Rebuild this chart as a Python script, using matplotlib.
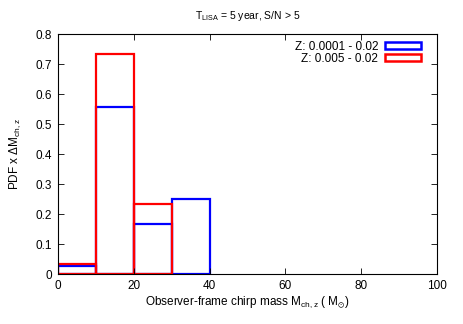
import matplotlib
matplotlib.use('Agg')
import matplotlib.pyplot as plt
from matplotlib.patches import Patch

# Histogram bins (chirp mass, left edges) and normalised counts
bin_left = [0, 10, 20, 30]
bin_width = 10
pdf_wide = [0.028, 0.556, 0.167, 0.25]     # Z: 0.0001 - 0.02
pdf_narrow = [0.033, 0.733, 0.233]          # Z: 0.005 - 0.02
labels = ['Z: 0.0001 - 0.02', 'Z: 0.005 - 0.02']

plt.rcParams['font.family'] = ['Liberation Sans', 'DejaVu Sans']
plt.rcParams['mathtext.default'] = 'regular'

fig = plt.figure(figsize=(4.63, 3.24), dpi=100)
ax = fig.add_axes([0.125, 0.154, 0.819, 0.741])

ax.bar(bin_left, pdf_wide, width=bin_width, align='edge', fill=False,
       edgecolor='#0000ff', linewidth=1.6)
ax.bar(bin_left[:len(pdf_narrow)], pdf_narrow, width=bin_width, align='edge',
       fill=False, edgecolor='#ff0000', linewidth=1.6)

ax.set_xlim(0, 100)
ax.set_ylim(0, 0.8)
ax.set_xticks(range(0, 101, 20))
ax.set_yticks([0, 0.1, 0.2, 0.3, 0.4, 0.5, 0.6, 0.7, 0.8])
ax.set_yticklabels(['0', '0.1', '0.2', '0.3', '0.4', '0.5', '0.6', '0.7', '0.8'])
ax.tick_params(direction='in', top=True, right=True, labelsize=8.5, length=4,
               width=0.6, pad=4)
for s in ax.spines.values():
    s.set_linewidth(0.8)

ax.set_title(r'T$_{LISA}$ = 5 year, S/N > 5', fontsize=7.5, pad=11)
ax.set_xlabel(r'Observer-frame chirp mass M$_{ch,z}$ ( M$_{\odot}$)',
              fontsize=8.5, labelpad=2)
ax.set_ylabel(r'PDF x $\Delta$M$_{ch,z}$', fontsize=8.5, labelpad=9)

handles = [Patch(fill=False, edgecolor='#0000ff', linewidth=1.8),
           Patch(fill=False, edgecolor='#ff0000', linewidth=1.8)]
ax.legend(handles, labels, loc='upper right', frameon=False, markerfirst=False,
          fontsize=8.5, handlelength=3.0, handleheight=0.55, labelspacing=0.0,
          handletextpad=0.6, borderaxespad=0.3, borderpad=0.3,
          bbox_to_anchor=(0.975, 1.0))

fig.savefig('out.png', dpi=100)
